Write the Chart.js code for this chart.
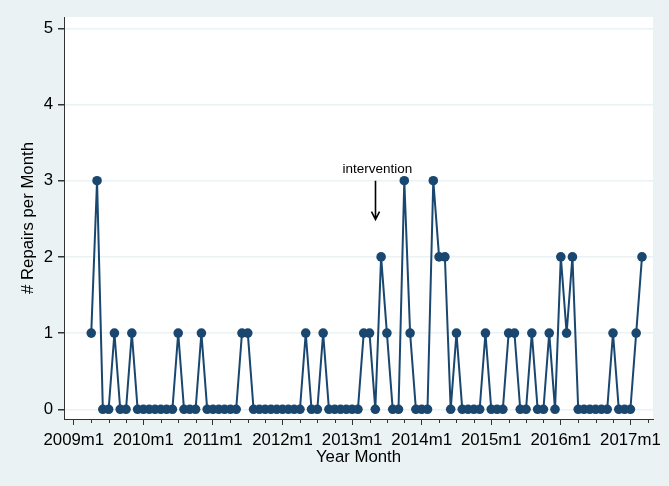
<!DOCTYPE html>
<html>
<head>
<meta charset="utf-8">
<script src="https://cdn.jsdelivr.net/npm/chart.js@4.4.0/dist/chart.umd.min.js"></script>
<style>
  html, body { margin: 0; padding: 0; background: #EAF2F3; }
  #wrap { width: 669px; height: 486px; }
</style>
</head>
<body>
<div id="wrap"><canvas id="myChart" width="669" height="486"></canvas></div>
<script>
// monthly repair counts, 2009m4 .. 2017m3
const startMonth = 3; // months after 2009m1
const repairs = [
  1, 3, 0, 0, 1, 0, 0, 1, 0,
  0, 0, 0, 0, 0, 0, 1, 0, 0, 0, 1, 0,
  0, 0, 0, 0, 0, 1, 1, 0, 0, 0, 0, 0,
  0, 0, 0, 0, 1, 0, 0, 1, 0, 0, 0, 0,
  0, 0, 1, 1, 0, 2, 1, 0, 0, 3, 1, 0,
  0, 0, 3, 2, 2, 0, 1, 0, 0, 0, 0, 1,
  0, 0, 0, 1, 1, 0, 0, 1, 0, 0, 1, 0,
  2, 1, 2, 0, 0, 0, 0, 0, 0, 1, 0, 0,
  0, 1, 2
];
const xTickLabels = ["2009m1", "2010m1", "2011m1", "2012m1", "2013m1", "2014m1", "2015m1", "2016m1", "2017m1"];
const yTicks = [0, 1, 2, 3, 4, 5];
const interventionMonth = 52; // 2013m5

const navy = "#1A476F";
const bg = "#EAF2F3";
const font = "'Liberation Sans', Arial, sans-serif";

const points = repairs.map((v, i) => ({ x: startMonth + i, y: v }));

const backgrounds = {
  id: "backgrounds",
  beforeDraw(chart) {
    const { ctx, chartArea: a } = chart;
    ctx.save();
    ctx.fillStyle = bg;
    ctx.fillRect(0, 0, chart.width, chart.height);
    ctx.fillStyle = "#FFFFFF";
    ctx.fillRect(a.left, a.top, a.right - a.left, a.bottom - a.top);
    ctx.restore();
  }
};

// quarterly minor ticks on the x axis + the intervention note
const extras = {
  id: "extras",
  afterDraw(chart) {
    const { ctx } = chart;
    const xs = chart.scales.x, ys = chart.scales.y;
    ctx.save();
    ctx.strokeStyle = "#333333";
    ctx.lineWidth = 1;
    for (let m = 3; m < 100; m += 3) {
      if (m % 12 === 0) continue;
      const px = Math.round(xs.getPixelForValue(m)) + 0.5;
      ctx.beginPath();
      ctx.moveTo(px, xs.top);
      ctx.lineTo(px, xs.top + 4);
      ctx.stroke();
    }
    // intervention label and arrow
    ctx.fillStyle = "#000";
    ctx.font = "13.5px " + font;
    ctx.textAlign = "center";
    ctx.textBaseline = "middle";
    ctx.fillText("intervention", xs.getPixelForValue(interventionMonth + 0.35), ys.getPixelForValue(3.15));
    const ax = Math.round(xs.getPixelForValue(interventionMonth)) + 0.5;
    const y0 = ys.getPixelForValue(3.0), y1 = ys.getPixelForValue(2.49);
    ctx.strokeStyle = "#000";
    ctx.lineWidth = 1.6;
    ctx.beginPath();
    ctx.moveTo(ax, y0);
    ctx.lineTo(ax, y1);
    ctx.moveTo(ax - 4, y1 - 8);
    ctx.lineTo(ax, y1);
    ctx.lineTo(ax + 4, y1 - 8);
    ctx.stroke();
    ctx.restore();
  }
};

const ctx = document.getElementById("myChart").getContext("2d");
const myChart = new Chart(ctx, {
  type: "line",
  data: {
    datasets: [
      {
        label: "# Repairs per Month",
        data: points,
        borderColor: navy,
        backgroundColor: navy,
        borderWidth: 2,
        pointRadius: 4.8,
        pointBackgroundColor: navy,
        pointBorderColor: navy,
        pointBorderWidth: 0,
        tension: 0,
      },
    ],
  },
  options: {
    responsive: false,
    animation: false,
    layout: { padding: { left: 0, top: 17, right: 16, bottom: 0 } },
    plugins: { legend: { display: false }, tooltip: { enabled: false } },
    scales: {
      x: {
        type: "linear",
        min: -1.7,
        max: 99.9,
        afterBuildTicks: (s) => { s.ticks = xTickLabels.map((_, i) => ({ value: i * 12 })); },
        afterFit: (s) => { s.height = 67; },
        ticks: {
          color: "#000",
          font: { family: font, size: 16.8 },
          padding: 5,
          maxRotation: 0,
          autoSkip: false,
          callback: (v) => xTickLabels[v / 12],
        },
        grid: { drawOnChartArea: false, tickLength: 6, tickColor: "#333333" },
        border: { color: "#333333", width: 1 },
        title: {
          display: true,
          text: "Year Month",
          color: "#000",
          font: { family: font, size: 16.8 },
          padding: { top: 0, bottom: 19 },
        },
      },
      y: {
        min: -0.127,
        max: 5.148,
        afterBuildTicks: (s) => { s.ticks = yTicks.map((v) => ({ value: v })); },
        afterFit: (s) => { s.width = 64; },
        ticks: {
          color: "#000",
          font: { family: font, size: 16.8 },
          padding: 5,
        },
        grid: { color: bg, lineWidth: 1.5, tickLength: 6, tickColor: "#333333" },
        border: { color: "#333333", width: 1 },
        title: {
          display: true,
          text: "# Repairs per Month",
          color: "#000",
          font: { family: font, size: 16.8 },
          padding: { top: 18, bottom: 0 },
        },
      },
    },
  },
  plugins: [backgrounds, extras],
});
</script>
</body>
</html>
